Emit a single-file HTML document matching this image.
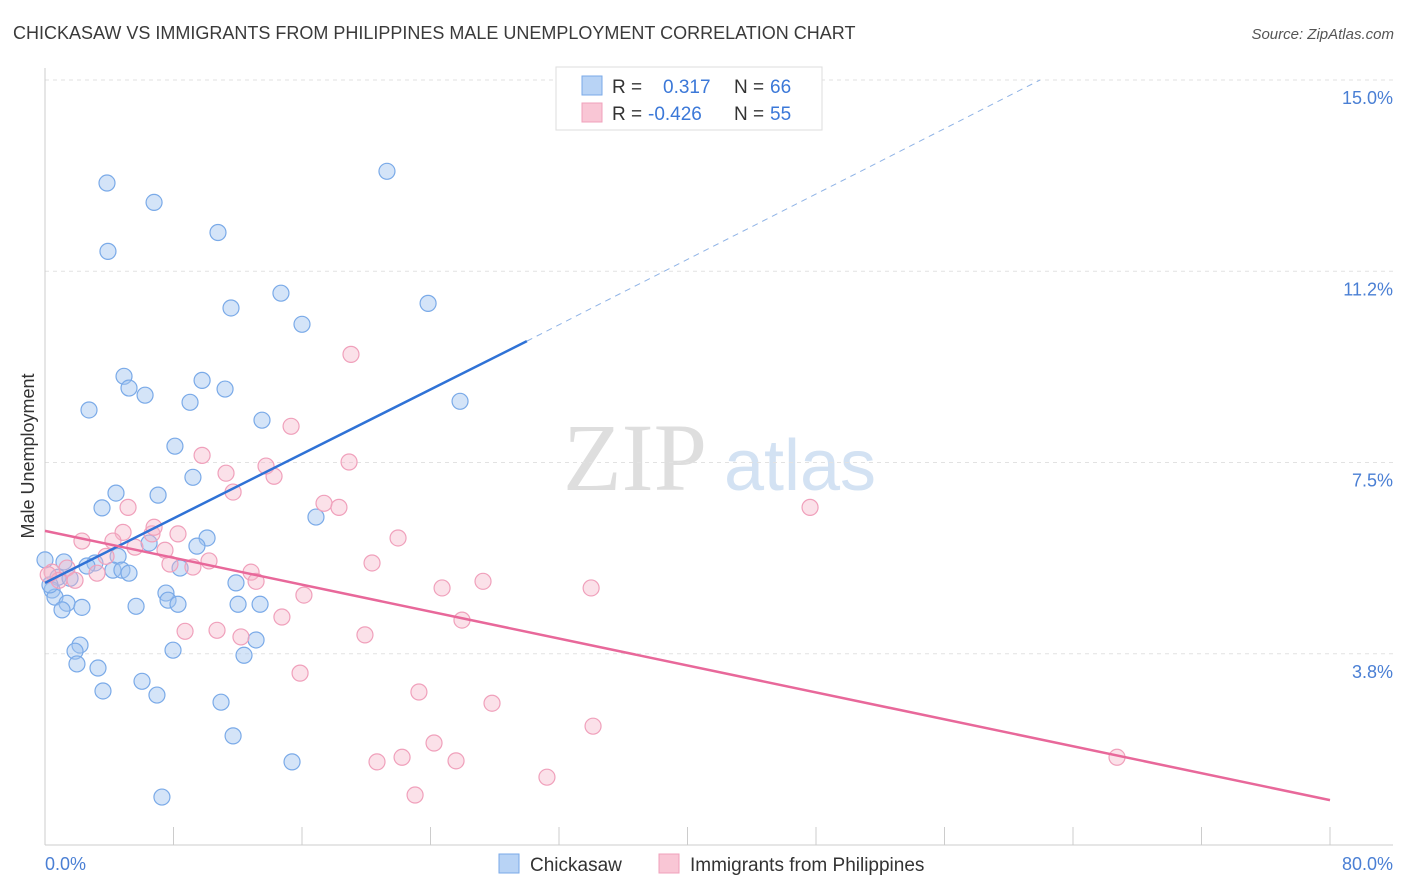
<!DOCTYPE html>
<html><head><meta charset="utf-8"><style>
body{margin:0;background:#fff;font-family:"Liberation Sans",sans-serif;}
svg{display:block}
</style></head><body>
<svg id="chart" width="1406" height="892" viewBox="0 0 1406 892" xmlns="http://www.w3.org/2000/svg">
<text x="13" y="39" font-size="18" fill="#3a3a3a">CHICKASAW VS IMMIGRANTS FROM PHILIPPINES MALE UNEMPLOYMENT CORRELATION CHART</text>
<text x="1394" y="39" font-size="15" fill="#555" font-style="italic" text-anchor="end">Source: ZipAtlas.com</text>
<g>
<text x="635" y="490" font-size="96" fill="#dedede" font-family="Liberation Serif,serif" text-anchor="middle">ZIP</text>
<text x="800" y="490" font-size="72" fill="#d3e2f3" text-anchor="middle">atlas</text>
</g>
<g id="grid"></g>
<g id="axes"></g>
<g id="marks"></g>
<text transform="translate(34,456) rotate(-90)" font-size="18" fill="#333" text-anchor="middle">Male Unemployment</text>
<g>
<rect x="556" y="67" width="266" height="63" fill="#fff" stroke="#ddd"/>
<rect x="582" y="76" width="20" height="19" fill="#b8d3f5" stroke="#7aaae8"/>
<rect x="582" y="103" width="20" height="19" fill="#f9c6d5" stroke="#f0a0bb"/>
<text x="612" y="93" font-size="19" fill="#333">R =</text>
<text x="663" y="93" font-size="19" fill="#3b78d8">0.317</text>
<text x="734" y="93" font-size="19" fill="#333">N =</text>
<text x="770" y="93" font-size="19" fill="#3b78d8">66</text>
<text x="612" y="120" font-size="19" fill="#333">R =</text>
<text x="648" y="120" font-size="19" fill="#3b78d8">-0.426</text>
<text x="734" y="120" font-size="19" fill="#333">N =</text>
<text x="770" y="120" font-size="19" fill="#3b78d8">55</text>
</g>
<g>
<rect x="499" y="854" width="20" height="19" fill="#b8d3f5" stroke="#7aaae8"/>
<text x="530" y="871" font-size="19" fill="#333">Chickasaw</text>
<rect x="659" y="854" width="20" height="19" fill="#f9c6d5" stroke="#f0a0bb"/>
<text x="690" y="871" font-size="19" fill="#333">Immigrants from Philippines</text>
</g>
</svg>
<script>
const yTicks=[3.75,7.5,11.25,15];
const yTickLabels=["3.8%","7.5%","11.2%","15.0%"];
const xTickCount=10;
const xLabels=["0.0%","80.0%"];
const blueX=[3.86,6.79,3.92,10.77,21.29,11.58,14.69,16.0,23.85,4.92,5.23,6.23,9.78,11.21,9.03,25.84,2.74,13.51,8.09,9.21,4.42,7.04,3.55,16.87,10.09,9.46,6.48,4.55,3.11,1.18,2.61,4.23,4.79,5.23,8.41,0.81,1.56,0.44,0.62,1.37,1.06,2.30,5.67,7.53,7.66,8.28,11.89,12.02,13.39,13.14,12.39,2.18,1.87,1.99,3.30,7.97,6.04,3.61,6.97,10.96,11.71,15.38,7.28,0,0.31];
const blueY=[12.98,12.60,11.64,12.01,13.21,10.53,10.82,10.21,10.62,9.19,8.96,8.82,9.11,8.94,8.68,8.70,8.53,8.33,7.82,7.21,6.90,6.86,6.61,6.43,6.02,5.86,5.92,5.66,5.53,5.55,5.47,5.39,5.39,5.33,5.43,5.25,5.23,5.0,4.86,4.74,4.61,4.66,4.68,4.94,4.80,4.72,5.14,4.72,4.72,4.02,3.72,3.92,3.80,3.55,3.47,3.82,3.21,3.02,2.94,2.80,2.14,1.63,0.94,5.59,5.1];
const pinkX=[19.05,15.32,9.78,11.27,13.76,14.26,18.93,11.71,17.37,18.30,47.63,5.17,4.86,6.66,8.28,6.79,2.30,4.23,7.47,21.98,3.80,5.60,7.78,9.21,10.21,20.36,12.83,13.14,1.37,0.44,0.87,1.87,3.24,27.27,24.72,34.0,16.12,14.75,25.96,8.72,10.71,12.2,19.92,15.88,23.28,27.83,34.12,24.22,22.23,20.67,25.59,31.25,23.04,66.74,0.2];
const pinkY=[9.62,8.21,7.64,7.29,7.43,7.23,7.51,6.92,6.70,6.62,6.62,6.62,6.13,6.10,6.10,6.23,5.96,5.96,5.78,6.02,5.66,5.84,5.51,5.45,5.57,5.53,5.35,5.17,5.43,5.35,5.19,5.19,5.33,5.17,5.04,5.04,4.90,4.47,4.41,4.19,4.21,4.08,4.12,3.37,3.0,2.78,2.33,2.0,1.72,1.63,1.65,1.33,0.98,1.72,5.3];
const blueLine=[[0,5.14],[30.0,9.88]];
const blueDash=[[30.0,9.88],[61.95,15.0]];
const pinkLine=[[0,6.16],[80,0.88]];

const NS="http://www.w3.org/2000/svg";
const X0=45,X1=1330,Y0=845,Y15=80;
const sx=v=>X0+(v/80)*(X1-X0);
const sy=v=>Y0-(v/15)*(Y0-Y15);
function mk(tag,attrs,parent){const e=document.createElementNS(NS,tag);for(const k in attrs)e.setAttribute(k,attrs[k]);parent.appendChild(e);return e;}
const grid=document.getElementById('grid'),axes=document.getElementById('axes'),marks=document.getElementById('marks');
yTicks.forEach((t,i)=>{
 const l=mk('line',{x1:X0,x2:1393,y1:sy(t),y2:sy(t),stroke:'#e2e2e2','stroke-dasharray':'4,4'},grid);
 
 
 const tx=mk('text',{x:1393,y:sy(t)+24,'font-size':18,fill:'#4a7fd4','text-anchor':'end'},axes);
 tx.textContent=yTickLabels[i];
 
 
});
const xa=mk('line',{x1:X0,x2:1393,y1:Y0,y2:Y0,stroke:'#ccc'},axes);


const ya=mk('line',{x1:X0,x2:X0,y1:68,y2:Y0,stroke:'#ccc'},axes);


for(let i=0;i<=xTickCount;i++){
 const v=i*80/xTickCount;
 const t=mk('line',{x1:sx(v),x2:sx(v),y1:Y0,y2:Y0-18,stroke:'#ccc'},axes);
 
 
}
const xl0=mk('text',{x:45,y:870,'font-size':18,fill:'#4a7fd4'},axes);xl0.textContent=xLabels[0];


const xl1=mk('text',{x:1393,y:870,'font-size':18,fill:'#4a7fd4','text-anchor':'end'},axes);xl1.textContent=xLabels[1];


blueX.forEach((v,i)=>{
 const c=mk('circle',{cx:sx(v),cy:sy(blueY[i]),r:8,fill:'rgba(160,196,240,0.45)',stroke:'#7aaae8','stroke-width':1.2},marks);
 
 
});
pinkX.forEach((v,i)=>{
 const c=mk('circle',{cx:sx(v),cy:sy(pinkY[i]),r:8,fill:'rgba(245,180,200,0.4)',stroke:'#f0a0bb','stroke-width':1.2},marks);
 
 
});
const bl=mk('line',{x1:sx(blueLine[0][0]),y1:sy(blueLine[0][1]),x2:sx(blueLine[1][0]),y2:sy(blueLine[1][1]),stroke:'#2f72d6','stroke-width':2.5},marks);


const bd=mk('line',{x1:sx(blueDash[0][0]),y1:sy(blueDash[0][1]),x2:sx(blueDash[1][0]),y2:sy(blueDash[1][1]),stroke:'#8fb3e6','stroke-width':1,'stroke-dasharray':'6,5'},marks);


const pl=mk('line',{x1:sx(pinkLine[0][0]),y1:sy(pinkLine[0][1]),x2:sx(pinkLine[1][0]),y2:sy(pinkLine[1][1]),stroke:'#e8689a','stroke-width':2.5},marks);


</script>
</body></html>
